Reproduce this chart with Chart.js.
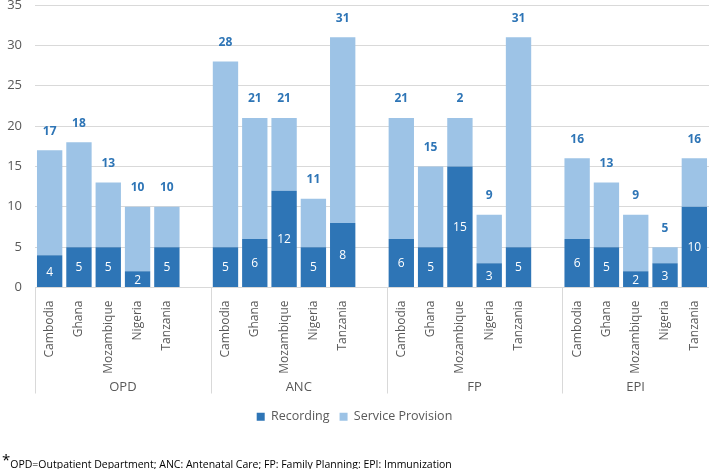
<!DOCTYPE html>
<html>
<head>
<meta charset="utf-8">
<script src="https://cdn.jsdelivr.net/npm/chart.js@4.4.1/dist/chart.umd.min.js"></script>
<style>
  html, body { margin: 0; padding: 0; background: #ffffff; }
  #wrap { position: relative; width: 709px; height: 469px; }
  #note { position: absolute; left: 2px; top: 452px; font-family: "Open Sans", sans-serif; font-size: 10.5px; color: #000; white-space: nowrap; }
  #note .ast { font-size: 15px; position: relative; top: -3px; }
</style>
</head>
<body>
<div id="wrap">
  <canvas id="c" width="709" height="469"></canvas>
  <div id="note"><span class="ast">*</span>OPD=Outpatient Department; ANC: Antenatal Care; FP: Family Planning: EPI: Immunization</div>
</div>
<script>
// ---- data ----
const groups = ['OPD', 'ANC', 'FP', 'EPI'];
const countries = ['Cambodia', 'Ghana', 'Mozambique', 'Nigeria', 'Tanzania'];
// order: OPD(5), ANC(5), FP(5), EPI(5)
const recording        = [4, 5, 5, 2, 5,   5, 6, 12, 5, 8,   6, 5, 15, 3, 5,   6, 5, 2, 3, 10];
const serviceProvision = [13, 13, 8, 8, 5, 23, 15, 9, 6, 23, 15, 10, 6, 6, 26, 10, 8, 7, 2, 6];
const totalLabels      = ['17','18','13','10','10', '28','21','21','11','31', '21','15','2','9','31', '16','13','9','5','16'];
const yMin = 0, yMax = 35, yStep = 5;

// ---- build category slots (5 bars + 1 empty gap per group, none after last) ----
const labels = [], recData = [], spData = [], slotToData = [];
groups.forEach((g, gi) => {
  countries.forEach((c, ci) => {
    const k = gi * countries.length + ci;
    labels.push(c); recData.push(recording[k]); spData.push(serviceProvision[k]); slotToData.push(k);
  });
  if (gi < groups.length - 1) { labels.push(''); recData.push(null); spData.push(null); slotToData.push(-1); }
});
const slotsPerGroup = countries.length + 1;

const DARK = '#2E75B6', LIGHT = '#9DC3E6', GRAY = '#595959', GRID = '#D9D9D9';
const FONT = '"Open Sans", sans-serif';

const valueLabels = {
  id: 'valueLabels',
  afterDatasetsDraw(chart) {
    const ctx = chart.ctx;
    const m0 = chart.getDatasetMeta(0), m1 = chart.getDatasetMeta(1);
    ctx.save();
    ctx.textAlign = 'center';
    ctx.textBaseline = 'middle';
    m0.data.forEach((bar, i) => {
      const k = slotToData[i];
      if (k < 0) return;
      ctx.fillStyle = '#ffffff';
      ctx.font = '12px ' + FONT;
      ctx.fillText(String(recording[k]), bar.x, (bar.y + bar.base) / 2 + 1);
      const top = m1.data[i];
      ctx.fillStyle = DARK;
      ctx.font = 'bold 12px ' + FONT;
      ctx.fillText(totalLabels[k], top.x, top.y - 19);
    });
    ctx.restore();
  }
};

const groupAxis = {
  id: 'groupAxis',
  afterDraw(chart) {
    const ctx = chart.ctx, xs = chart.scales.x, area = chart.chartArea;
    const pitch = xs.getPixelForValue(1) - xs.getPixelForValue(0);
    const bounds = groups.map((g, gi) => xs.getPixelForValue(gi * slotsPerGroup) - pitch / 2);
    bounds.push(area.right - 0.5);
    const y0 = area.bottom, y1 = area.bottom + 106;
    ctx.save();
    ctx.strokeStyle = GRID;
    ctx.lineWidth = 1;
    bounds.forEach(b => {
      const x = Math.round(b) + 0.5;
      ctx.beginPath(); ctx.moveTo(x, y0); ctx.lineTo(x, y1); ctx.stroke();
    });
    ctx.fillStyle = GRAY;
    ctx.font = '13px ' + FONT;
    ctx.textAlign = 'center';
    ctx.textBaseline = 'middle';
    groups.forEach((g, gi) => {
      ctx.fillText(g, (bounds[gi] + bounds[gi + 1]) / 2, area.bottom + 100);
    });
    ctx.restore();
  }
};

new Chart(document.getElementById('c'), {
  type: 'bar',
  data: {
    labels: labels,
    datasets: [
      { label: 'Recording', data: recData, backgroundColor: DARK, borderWidth: 0 },
      { label: 'Service Provision', data: spData, backgroundColor: LIGHT, borderWidth: 0 }
    ]
  },
  options: {
    responsive: false,
    animation: false,
    devicePixelRatio: 1,
    layout: { padding: { top: 5, right: 0, left: 0, bottom: 36 } },
    datasets: { bar: { categoryPercentage: 1, barPercentage: 0.865 } },
    scales: {
      x: {
        stacked: true,
        grid: { display: false, drawTicks: false },
        border: { display: true, color: GRID },
        ticks: { autoSkip: false, maxRotation: 90, minRotation: 90, padding: 13, color: GRAY, font: { family: FONT, size: 12 } },
        afterFit(s) { s.height = 113; s.paddingLeft = 0; s.paddingRight = 0; s.paddingTop = 0; }
      },
      y: {
        stacked: true,
        min: yMin, max: yMax,
        ticks: { stepSize: yStep, padding: 13, color: GRAY, font: { family: FONT, size: 13 } },
        grid: { color: GRID, drawTicks: false },
        border: { display: false },
        afterFit(s) { s.width = 35; s.paddingTop = 0; s.paddingBottom = 0; }
      }
    },
    plugins: {
      legend: {
        position: 'bottom',
        labels: { boxWidth: 8, boxHeight: 8, padding: 10, color: GRAY, font: { family: FONT, size: 12.5 } }
      },
      tooltip: { enabled: false }
    }
  },
  plugins: [valueLabels, groupAxis]
});
</script>
</body>
</html>
